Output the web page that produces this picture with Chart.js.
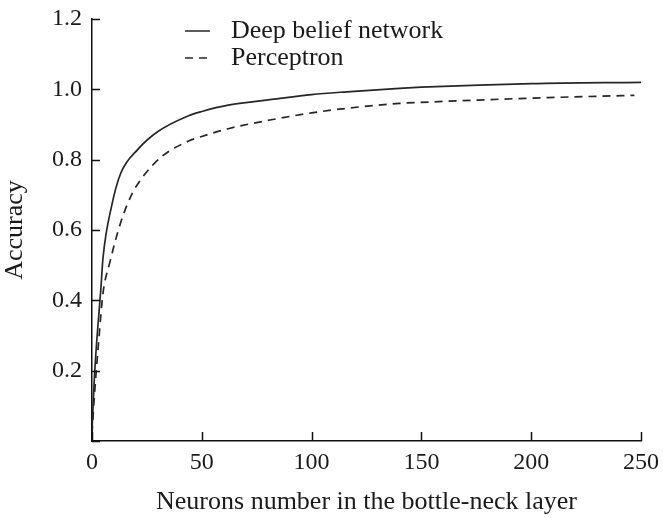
<!DOCTYPE html>
<html>
<head>
<meta charset="utf-8">
<script src="https://cdn.jsdelivr.net/npm/chart.js@4.4.1/dist/chart.umd.min.js"></script>
<style>
  html, body { margin: 0; padding: 0; background: #fff; }
  canvas { display: block; }
</style>
</head>
<body>
<canvas id="accuracy-chart" width="663" height="518"></canvas>
<script>
"use strict";

// neurons in the bottle-neck layer vs. accuracy
const dbnNeurons = [0, 1, 2, 4, 5, 9, 13, 21, 30, 44, 50, 62, 83, 100, 116, 140, 150, 200, 250];
const dbnAccuracy = [0.03, 0.17, 0.27, 0.43, 0.52, 0.67, 0.76, 0.83, 0.88, 0.925, 0.937, 0.955, 0.972, 0.985, 0.993, 1.003, 1.006, 1.016, 1.02];

const perceptronNeurons = [0, 1, 3, 5, 8, 13, 18, 23, 32, 44, 50, 62, 83, 100, 116, 140, 150, 200, 247];
const perceptronAccuracy = [0.02, 0.12, 0.28, 0.42, 0.505, 0.62, 0.7, 0.75, 0.81, 0.853, 0.866, 0.888, 0.915, 0.933, 0.946, 0.96, 0.963, 0.975, 0.983];

const seriesNames = ["Deep belief network", "Perceptron"];
const xTicks = [0, 50, 100, 150, 200, 250];
const yTicks = [0, 0.2, 0.4, 0.6, 0.8, 1.0, 1.2];

const serif = "'Liberation Serif', 'Times New Roman', serif";
const ink = "#262626";

function toPoints(xs, ys) {
    return xs.map((x, i) => ({ x: x, y: ys[i] }));
}

// tick marks point into the plot, like the printed figure
const innerTicks = {
    id: "innerTicks",
    afterDraw(chart) {
        const { ctx, scales: { x, y } } = chart;
        ctx.save();
        ctx.strokeStyle = "#111";
        ctx.lineWidth = 1.5;
        ctx.beginPath();
        xTicks.forEach((v) => {
            const px = Math.round(x.getPixelForValue(v)) + 0.5;
            ctx.moveTo(px, y.bottom);
            ctx.lineTo(px, y.bottom - 9);
        });
        yTicks.forEach((v) => {
            const py = Math.round(y.getPixelForValue(v)) + 0.5;
            ctx.moveTo(x.left, py);
            ctx.lineTo(x.left + 8, py);
        });
        ctx.stroke();
        ctx.restore();
    },
};

// small legend in the upper part of the plot
const lineLegend = {
    id: "lineLegend",
    afterDraw(chart, args, opts) {
        const { ctx } = chart;
        ctx.save();
        ctx.font = "26px " + serif;
        ctx.textBaseline = "middle";
        chart.data.datasets.forEach((ds, i) => {
            const y = opts.top + i * opts.rowHeight;
            ctx.strokeStyle = ds.borderColor;
            ctx.lineWidth = 1.5;
            ctx.setLineDash(ds.borderDash || []);
            ctx.beginPath();
            ctx.moveTo(opts.left, y);
            ctx.lineTo(opts.left + opts.sampleWidth, y);
            ctx.stroke();
            ctx.setLineDash([]);
            ctx.fillStyle = "#1a1a1a";
            ctx.fillText(ds.label, opts.left + opts.sampleWidth + opts.gap, y);
        });
        ctx.restore();
    },
};

new Chart(document.getElementById("accuracy-chart"), {
    type: "scatter",
    data: {
        datasets: [
            {
                label: seriesNames[0],
                data: toPoints(dbnNeurons, dbnAccuracy),
                showLine: true,
                borderColor: ink,
                borderWidth: 1.7,
                pointRadius: 0,
                cubicInterpolationMode: "monotone",
            },
            {
                label: seriesNames[1],
                data: toPoints(perceptronNeurons, perceptronAccuracy),
                showLine: true,
                borderColor: ink,
                borderWidth: 1.7,
                borderDash: [8, 6],
                pointRadius: 0,
                cubicInterpolationMode: "monotone",
            },
        ],
    },
    options: {
        responsive: false,
        animation: false,
        layout: {
            padding: { top: 19, right: 22, left: 0, bottom: 0 },
        },
        scales: {
            x: {
                type: "linear",
                min: 0,
                max: 250,
                afterBuildTicks: (scale) => {
                    scale.ticks = xTicks.map((v) => ({ value: v }));
                },
                afterFit: (scale) => {
                    scale.height = 77;
                    scale.paddingLeft = 0;
                    scale.paddingRight = 0;
                },
                ticks: {
                    color: "#1a1a1a",
                    font: { family: serif, size: 24 },
                    padding: 7,
                    maxRotation: 0,
                },
                grid: { display: false, drawTicks: false },
                border: { display: true, color: "#111", width: 1.5 },
                title: {
                    display: true,
                    text: "Neurons number in the bottle-neck layer",
                    color: "#1a1a1a",
                    font: { family: serif, size: 26 },
                    padding: { top: 2, bottom: 0 },
                },
            },
            y: {
                min: 0,
                max: 1.2,
                afterBuildTicks: (scale) => {
                    scale.ticks = yTicks.map((v) => ({ value: v }));
                },
                afterFit: (scale) => {
                    scale.width = 92;
                    scale.paddingTop = 0;
                    scale.paddingBottom = 0;
                },
                ticks: {
                    color: "#1a1a1a",
                    font: { family: serif, size: 24 },
                    padding: 10,
                    callback: (v) => (v === 0 ? "" : v.toFixed(1)),
                },
                grid: { display: false, drawTicks: false },
                border: { display: true, color: "#111", width: 1.5 },
                title: {
                    display: true,
                    text: "Accuracy",
                    color: "#1a1a1a",
                    font: { family: serif, size: 26 },
                    padding: { top: 0, bottom: 0 },
                },
            },
        },
        plugins: {
            legend: { display: false },
            tooltip: { enabled: false },
            lineLegend: {
                left: 185,
                top: 31,
                rowHeight: 27,
                sampleWidth: 25,
                gap: 21,
            },
        },
    },
    plugins: [innerTicks, lineLegend],
});
</script>
</body>
</html>
